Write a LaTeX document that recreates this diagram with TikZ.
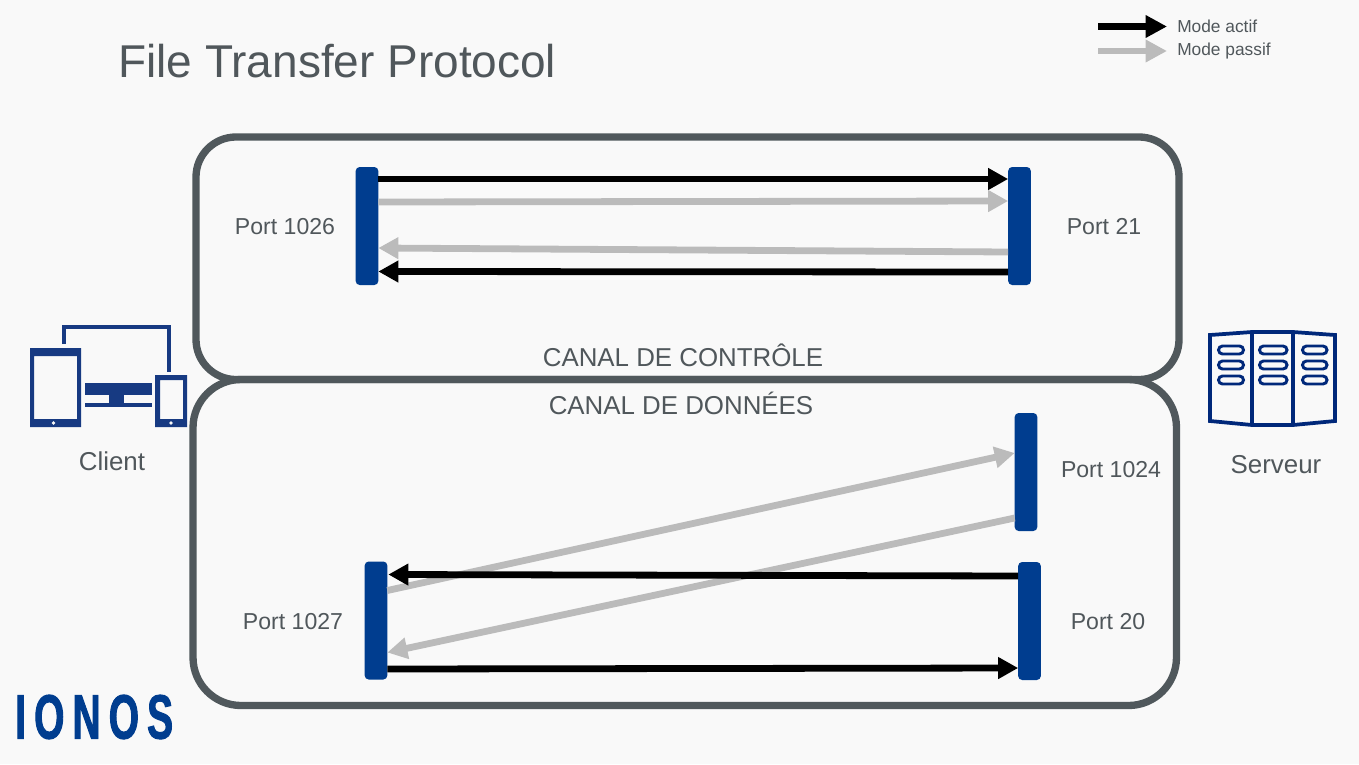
\documentclass[tikz,border=0pt]{standalone}
\usepackage{fontspec}
\setmainfont{Liberation Sans}
\newfontfamily\ionosfont[FakeStretch=0.62,FakeBold=1.5,LetterSpace=13]{Liberation Sans}
\usetikzlibrary{arrows.meta,calc}
\definecolor{bgc}{HTML}{F9F9F9}
\definecolor{framec}{HTML}{50585C}
\definecolor{textc}{HTML}{50575B}
\definecolor{greyc}{HTML}{BBBBBB}
\definecolor{bluec}{HTML}{003D8F}
\definecolor{iconc}{HTML}{173A82}
\definecolor{srvc}{HTML}{00287A}
\tikzset{
  x=.75pt,y=-.75pt,
  canal/.style={draw=framec,line width=5.5pt,inner sep=0,outer sep=0,fill=none},
  portbar/.style={fill=bluec,inner sep=0,outer sep=0,minimum width=17pt,minimum height=88.5pt,rounded corners=3pt},
  lbl/.style={text=textc,font=\fontsize{17.3pt}{20pt}\selectfont,inner sep=0},
  biglbl/.style={text=textc,font=\fontsize{19.4pt}{22pt}\selectfont,inner sep=0},
  leg/.style={text=textc,font=\fontsize{13pt}{15pt}\selectfont,inner sep=0,anchor=west},
  arr/.style={line width=5.1pt,-{Triangle[length=15pt,width=15.5pt]}},
  blk/.style={arr,draw=black},
  gry/.style={arr,draw=greyc},
  legarr/.style={line width=5pt,-{Triangle[length=16pt,width=16pt]}},
  pill/.style={draw=srvc,line width=2.2pt,rounded corners=3pt},
}
\begin{document}
\begin{tikzpicture}
\useasboundingbox (0,0) rectangle (1359,764);
\fill[bgc] (0,0) rectangle (1359,764);

% Title
\node[text=textc,font=\fontsize{34.5pt}{38pt}\selectfont,inner sep=0,anchor=west] (title) at (118,61) {File Transfer Protocol};

% Legend
\coordinate (la1) at (1098,26.5);
\coordinate (la2) at (1167,26.5);
\coordinate (lp1) at (1098,51);
\coordinate (lp2) at (1167,51);
\draw[legarr,draw=black] (la1) -- (la2);
\draw[legarr,draw=greyc] (lp1) -- (lp2);
\node[leg] (lta) at (1177,26.5) {Mode actif};
\node[leg] (ltp) at (1177,51) {Mode passif};

% Channel frames
\node[canal,rounded corners=30pt,minimum width=737.25pt,minimum height=181.9pt] (ctrl) at (687.5,258.25) {};
\node[canal,rounded corners=36pt,minimum width=737.6pt,minimum height=244.5pt] (data) at (684.75,542.5) {};
\node[biglbl] (tctrl) at (683,355) {CANAL DE CONTRÔLE};
\node[biglbl] (tdata) at (681,403) {CANAL DE DONNÉES};

% Ports
\node[portbar] (p1026) at (367,226) {};
\node[portbar] (p21) at (1019.5,226) {};
\node[portbar] (p1024) at (1026,472) {};
\node[portbar] (p20) at (1029.5,621) {};
\node[portbar] (p1027) at (376,620.5) {};
\node[lbl] (l1026) at (285,226.5) {Port 1026};
\node[lbl] (l21) at (1104,226.5) {Port 21};
\node[lbl] (l1024) at (1111,469.5) {Port 1024};
\node[lbl] (l20) at (1108,621.5) {Port 20};
\node[lbl] (l1027) at (293,621.5) {Port 1027};

% Control channel arrows
\draw[blk] ($(p1026.east)+(0,-47)$) -- ($(p21.west)+(0,-47)$);
\draw[gry] ($(p1026.east)+(0,-24)$) -- ($(p21.west)+(0,-25)$);
\draw[gry] ($(p21.west)+(0,26)$) -- ($(p1026.east)+(0,22)$);
\draw[blk] ($(p21.west)+(0,46)$) -- ($(p1026.east)+(0,45.5)$);

% Data channel arrows
\draw[gry] ($(p1027.east)+(0,-30)$) -- ($(p1024.west)+(0,-19)$);
\draw[gry] ($(p1024.west)+(0,46)$) -- ($(p1027.east)+(0,32)$);
\draw[blk] ($(p20.west)+(0,-45)$) -- ($(p1027.east)+(1,-46)$);
\draw[blk] ($(p1027.east)+(0,48.5)$) -- ($(p20.west)+(0,47)$);

% Client icon
\begin{scope}
\fill[iconc,even odd rule] (30,348) rectangle (81,427) (34,356) rectangle (77,419);
\fill[bgc] (53.5,423) circle (1.8);
\fill[iconc,even odd rule] (155,375) rectangle (187,427) (160,380) rectangle (183,419);
\fill[bgc] (171,423) circle (1.8);
\fill[iconc] (85,383) rectangle (152,395);
\fill[iconc] (109,395) rectangle (124,403);
\fill[iconc] (85,403) rectangle (152,407);
\draw[iconc,line width=3pt] (64,344) -- (64,327) -- (169,327) -- (169,372);
\end{scope}
\node[biglbl] (lclient) at (112,461) {Client};

% Server icon
\begin{scope}
\draw[srvc,line width=2.8pt,line join=miter] (1210,335) -- (1252,332) -- (1293,332) -- (1335,335) -- (1335,421) -- (1293,425) -- (1252,425) -- (1210,421) -- cycle;
\draw[srvc,line width=3pt] (1252,332) -- (1252,425);
\draw[srvc,line width=3pt] (1293,332) -- (1293,425);
\foreach \yy in {350,365,380}{
  \draw[pill] (1218.5,\yy-4) rectangle (1243.5,\yy+4);
  \draw[pill] (1259.5,\yy-4) rectangle (1287,\yy+4);
  \draw[pill] (1302.5,\yy-4) rectangle (1327,\yy+4);
}
\end{scope}
\node[biglbl] (lserv) at (1276,465) {Serveur};

% Logo
\node[text=bluec,inner sep=0,anchor=west] (logo) at (15,717) {\ionosfont\bfseries\fontsize{47pt}{50pt}\selectfont IONOS};
\end{tikzpicture}
\end{document}
